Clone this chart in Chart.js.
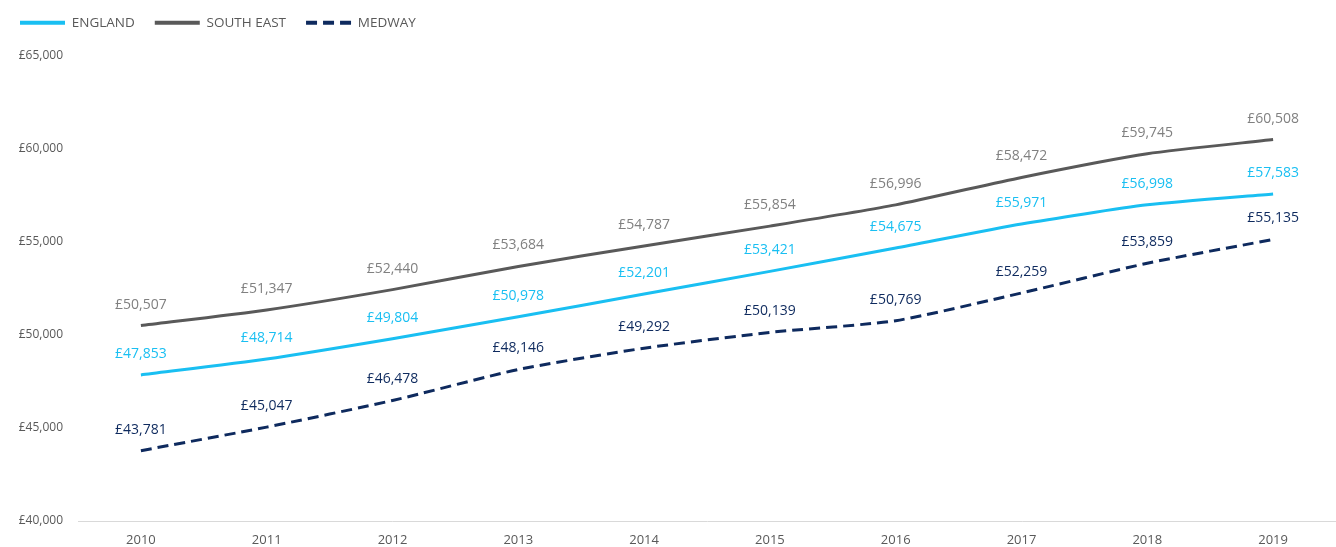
<!DOCTYPE html>
<html>
<head>
<meta charset="utf-8">
<script src="https://cdn.jsdelivr.net/npm/chart.js@4/dist/chart.umd.min.js"></script>
<style>
  html, body { margin: 0; padding: 0; background: #fff; }
  #wrap { width: 1336px; height: 547px; }
</style>
</head>
<body>
<div id="wrap"><canvas id="myChart"></canvas></div>
<script>
var years = ['2010', '2011', '2012', '2013', '2014', '2015', '2016', '2017', '2018', '2019'];
var england = [47853, 48714, 49804, 50978, 52201, 53421, 54675, 55971, 56998, 57583];
var southEast = [50507, 51347, 52440, 53684, 54787, 55854, 56996, 58472, 59745, 60508];
var medway = [43781, 45047, 46478, 48146, 49292, 50139, 50769, 52259, 53859, 55135];

var FONT = "'Open Sans', 'Noto Sans', sans-serif";

function money(v) {
  return '£' + v.toLocaleString('en-GB');
}

// value labels above each point
var pointLabels = {
  id: 'pointLabels',
  afterDatasetsDraw: function(chart) {
    var ctx = chart.ctx;
    ctx.save();
    ctx.font = '14px ' + FONT;
    ctx.textAlign = 'center';
    ctx.textBaseline = 'middle';
    chart.data.datasets.forEach(function(ds, i) {
      var meta = chart.getDatasetMeta(i);
      ctx.fillStyle = ds.labelColor;
      meta.data.forEach(function(pt, j) {
        ctx.fillText(money(ds.data[j]), pt.x, pt.y - 21);
      });
    });
    ctx.restore();
  }
};

// fixed legend height so the plot starts where the original does
var legendHeight = {
  id: 'legendHeight',
  beforeLayout: function(chart) {
    var lg = chart.legend;
    if (lg && !lg._patched) {
      var fit = lg.fit;
      lg.fit = function() { fit.call(this); this.height = 56; };
      lg._patched = true;
    }
  },
  afterLayout: function(chart) {
    if (chart.legend) chart.legend.top = -4;
  }
};

var ctx = document.getElementById('myChart').getContext('2d');
var myChart = new Chart(ctx, {
  type: 'line',
  data: {
    labels: years,
    datasets: [{
      label: 'ENGLAND',
      data: england,
      borderColor: '#19BFF2',
      backgroundColor: '#19BFF2',
      labelColor: '#19BFF2',
      borderWidth: 3,
      pointRadius: 0,
      tension: 0.2
    }, {
      label: 'SOUTH EAST',
      data: southEast,
      borderColor: '#595959',
      backgroundColor: '#595959',
      labelColor: '#808080',
      borderWidth: 3,
      pointRadius: 0,
      tension: 0.2
    }, {
      label: 'MEDWAY',
      data: medway,
      borderColor: '#0E2A5E',
      backgroundColor: '#0E2A5E',
      labelColor: '#0E2A5E',
      borderWidth: 3,
      borderDash: [11, 6],
      pointRadius: 0,
      tension: 0.2
    }]
  },
  options: {
    responsive: true,
    maintainAspectRatio: false,
    animation: false,
    layout: { padding: { top: 0, right: 0, bottom: 2, left: 0 } },
    plugins: {
      legend: {
        position: 'top',
        align: 'start',
        labels: {
          usePointStyle: true,
          pointStyle: 'line',
          pointStyleWidth: 45,
          boxHeight: 12,
          padding: 20,
          color: '#595959',
          font: { family: FONT, size: 13.5 },
          generateLabels: function(chart) {
            return chart.data.datasets.map(function(ds, i) {
              return {
                text: ds.label,
                strokeStyle: ds.borderColor,
                fillStyle: ds.borderColor,
                lineWidth: 4,
                lineDash: ds.borderDash || [],
                pointStyle: 'line',
                fontColor: '#595959',
                hidden: false,
                datasetIndex: i
              };
            });
          }
        }
      },
      tooltip: { enabled: false }
    },
    scales: {
      x: {
        offset: true,
        afterFit: function(scale) { scale.height = 24; },
        grid: { display: false, drawTicks: false },
        border: { display: true, color: '#D9D9D9', width: 1 },
        ticks: {
          color: '#595959',
          padding: 11,
          font: { family: FONT, size: 13 }
        }
      },
      y: {
        min: 40000,
        max: 65000,
        afterFit: function(scale) { scale.width = 78; },
        grid: { display: false, drawTicks: false },
        border: { display: false },
        ticks: {
          stepSize: 5000,
          color: '#595959',
          padding: 15,
          font: { family: FONT, size: 12 },
          callback: function(v) { return money(v); }
        }
      }
    }
  },
  plugins: [pointLabels, legendHeight]
});
</script>
</body>
</html>
